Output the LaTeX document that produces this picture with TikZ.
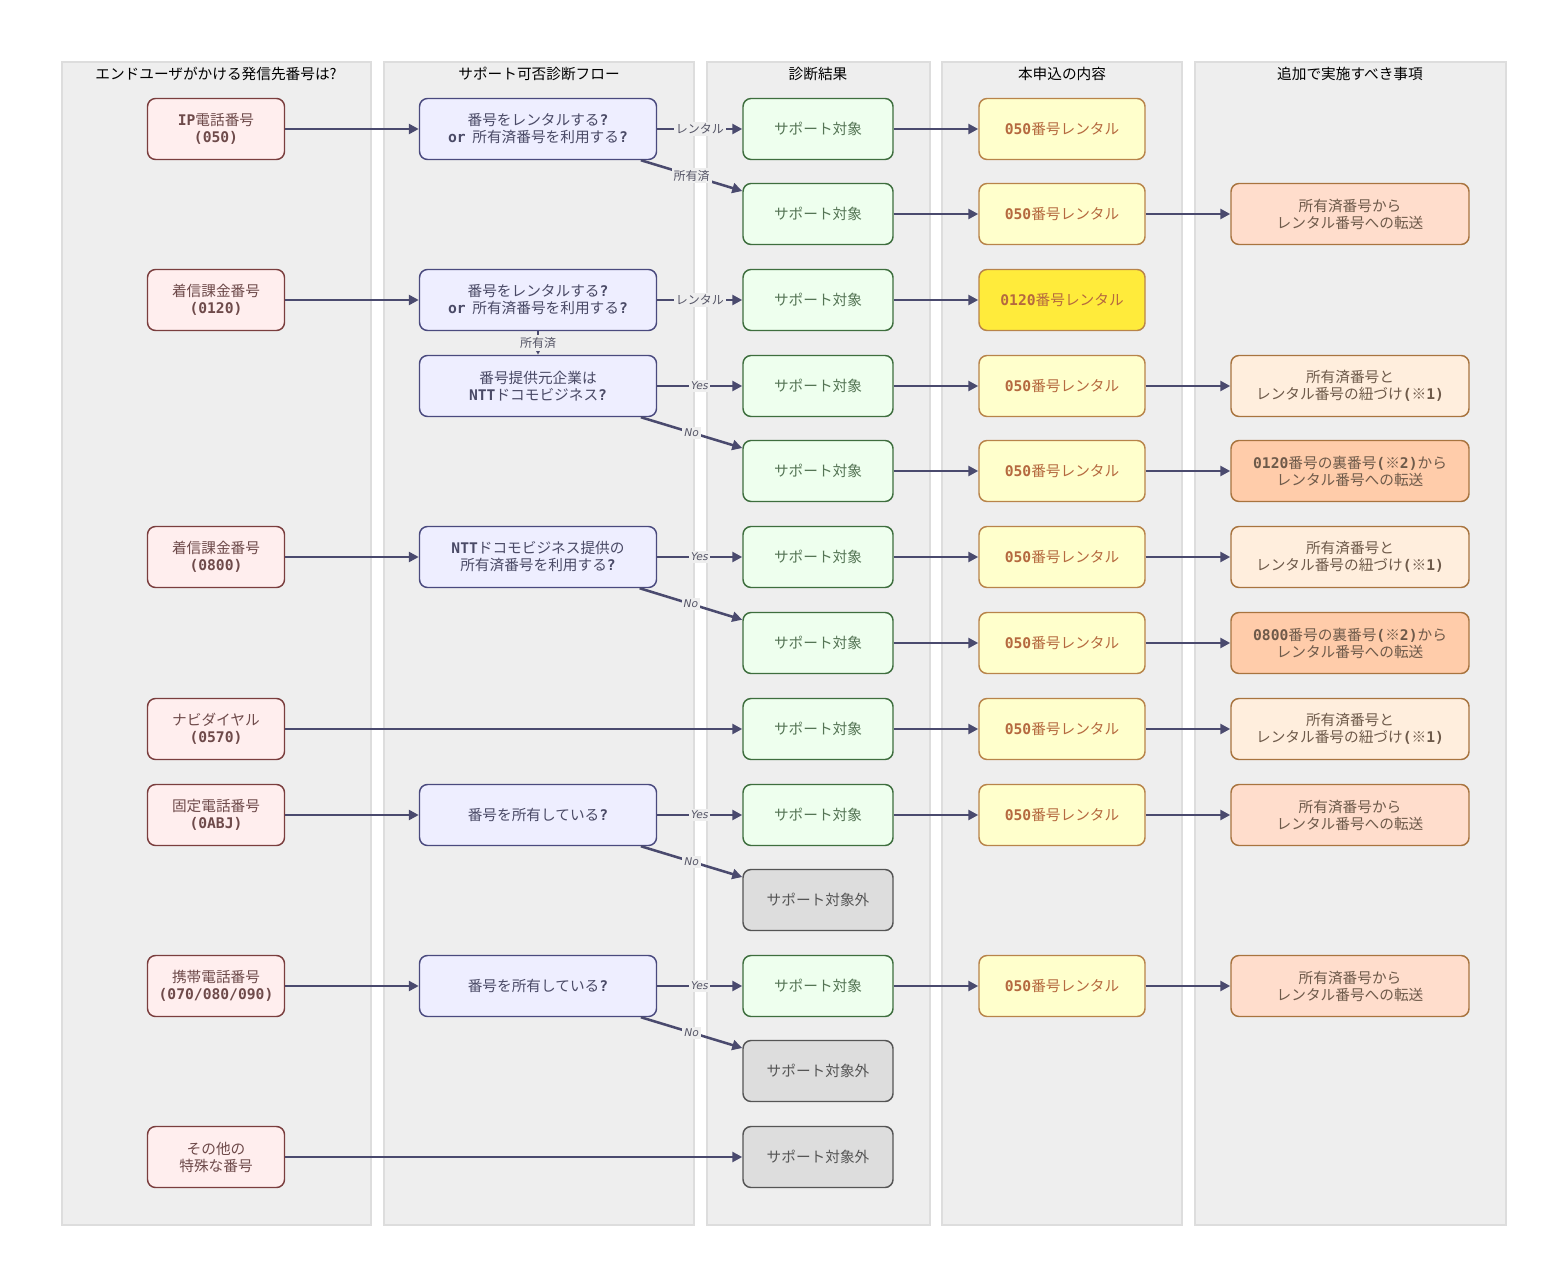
\documentclass[tikz,border=0pt]{standalone}
\usepackage{fontspec}
\usepackage{xcolor}
\usepackage{tikz}
\usetikzlibrary{arrows.meta, positioning}
\setmainfont{Noto Sans CJK JP}
\newfontfamily\monofnt{DejaVu Sans Mono}
\newfontfamily\latinfnt{DejaVu Sans}
\newcommand{\mb}[1]{{\monofnt\bfseries #1}}
\definecolor{lanefill}{HTML}{EEEEEE}
\definecolor{lanedraw}{HTML}{DDDDDD}
\definecolor{phonefill}{HTML}{FFEEEE}
\definecolor{phonedraw}{HTML}{7A3E3E}
\definecolor{phonetext}{HTML}{6E4A4A}
\definecolor{askfill}{HTML}{EEEEFF}
\definecolor{askdraw}{HTML}{4A4A7E}
\definecolor{asktext}{HTML}{4A4A66}
\definecolor{okfill}{HTML}{EEFFEE}
\definecolor{okdraw}{HTML}{3E6E3E}
\definecolor{oktext}{HTML}{557555}
\definecolor{ngfill}{HTML}{DDDDDD}
\definecolor{ngdraw}{HTML}{555555}
\definecolor{ngtext}{HTML}{555555}
\definecolor{applyfill}{HTML}{FFFFCC}
\definecolor{applyhot}{HTML}{FFEB3B}
\definecolor{applydraw}{HTML}{B8844A}
\definecolor{applytext}{HTML}{B5693F}
\definecolor{movefill}{HTML}{FFDDCC}
\definecolor{linkfill}{HTML}{FFEEDD}
\definecolor{backfill}{HTML}{FFCCAA}
\definecolor{extradraw}{HTML}{A8743F}
\definecolor{extratext}{HTML}{6E5A4A}
\definecolor{arrowcol}{HTML}{4A4A6E}
\definecolor{lbltext}{HTML}{555566}

\begin{document}
\begin{tikzpicture}[
    x=0.75pt, y=-0.75pt,
    lane/.style={draw=lanedraw, line width=2pt, fill=lanefill},
    title/.style={font=\fontsize{11}{12}\selectfont, text=black},
    box/.style={rectangle, rounded corners=6pt, minimum height=45.75pt, align=center, line width=1.1pt, inner sep=2pt, font=\fontsize{11}{12.75}\selectfont},
    phone/.style={box, minimum width=102.75pt, fill=phonefill, draw=phonedraw, text=phonetext},
    ask/.style={box, minimum width=177.75pt, fill=askfill, draw=askdraw, text=asktext},
    ok/.style={box, minimum width=112.5pt, fill=okfill, draw=okdraw, text=oktext},
    ng/.style={box, minimum width=112.5pt, fill=ngfill, draw=ngdraw, text=ngtext},
    apply/.style={box, minimum width=124.5pt, fill=applyfill, draw=applydraw, text=applytext},
    extra/.style={box, minimum width=178.5pt, draw=extradraw, text=extratext},
    arrow/.style={-{Triangle[length=7.5pt, width=7.5pt]}, line width=1.9pt, color=arrowcol},
    lbl/.style={fill=lanefill, inner sep=1.5pt, font=\fontsize{9}{10}\selectfont, text=lbltext},
    yn/.style={lbl, font=\fontsize{8}{10}\selectfont\latinfnt\itshape}
]
\useasboundingbox (0,0) rectangle (1568,1287);

% lanes
\draw[lane] (62,62) rectangle (371,1225);
\draw[lane] (384,62) rectangle (694,1225);
\draw[lane] (707,62) rectangle (930,1225);
\draw[lane] (942,62) rectangle (1182,1225);
\draw[lane] (1195,62) rectangle (1506,1225);
\node[title] (t1) at (216,74) {エンドユーザがかける発信先番号は?};
\node[title] (t2) at (539,74) {サポート可否診断フロー};
\node[title] (t3) at (818,74) {診断結果};
\node[title] (t4) at (1062,74) {本申込の内容};
\node[title] (t5) at (1350,74) {追加で実施すべき事項};

% numbers
\node[phone] (p1) at (216,129) {\mb{IP}電話番号\\\mb{(050)}};
\node[phone] (p2) at (216,300) {着信課金番号\\\mb{(0120)}};
\node[phone] (p3) at (216,557) {着信課金番号\\\mb{(0800)}};
\node[phone] (p4) at (216,729) {ナビダイヤル\\\mb{(0570)}};
\node[phone] (p5) at (216,815) {固定電話番号\\\mb{(0ABJ)}};
\node[phone] (p6) at (216,986) {携帯電話番号\\\mb{(070/080/090)}};
\node[phone] (p7) at (216,1157) {その他の\\特殊な番号};

% questions
\node[ask] (q1) at (538,129) {番号をレンタルする\mb{?}\\\mb{or}\ \ 所有済番号を利用する\mb{?}};
\node[ask] (q2) at (538,300) {番号をレンタルする\mb{?}\\\mb{or}\ \ 所有済番号を利用する\mb{?}};
\node[ask] (q3) at (538,386) {番号提供元企業は\\\mb{NTT}ドコモビジネス\mb{?}};
\node[ask] (q4) at (538,557) {\mb{NTT}ドコモビジネス提供の\\所有済番号を利用する\mb{?}};
\node[ask] (q5) at (538,815) {番号を所有している\mb{?}};
\node[ask] (q6) at (538,986) {番号を所有している\mb{?}};

% results
\node[ok] (r1) at (818,129) {サポート対象};
\node[ok] (r2) at (818,214) {サポート対象};
\node[ok] (r3) at (818,300) {サポート対象};
\node[ok] (r4) at (818,386) {サポート対象};
\node[ok] (r5) at (818,471) {サポート対象};
\node[ok] (r6) at (818,557) {サポート対象};
\node[ok] (r7) at (818,643) {サポート対象};
\node[ok] (r8) at (818,729) {サポート対象};
\node[ok] (r9) at (818,815) {サポート対象};
\node[ng] (r10) at (818,900) {サポート対象外};
\node[ok] (r11) at (818,986) {サポート対象};
\node[ng] (r12) at (818,1071) {サポート対象外};
\node[ng] (r13) at (818,1157) {サポート対象外};

% applications
\node[apply] (a1) at (1062,129) {\mb{050}番号レンタル};
\node[apply] (a2) at (1062,214) {\mb{050}番号レンタル};
\node[apply, fill=applyhot] (a3) at (1062,300) {\mb{0120}番号レンタル};
\node[apply] (a4) at (1062,386) {\mb{050}番号レンタル};
\node[apply] (a5) at (1062,471) {\mb{050}番号レンタル};
\node[apply] (a6) at (1062,557) {\mb{050}番号レンタル};
\node[apply] (a7) at (1062,643) {\mb{050}番号レンタル};
\node[apply] (a8) at (1062,729) {\mb{050}番号レンタル};
\node[apply] (a9) at (1062,815) {\mb{050}番号レンタル};
\node[apply] (a11) at (1062,986) {\mb{050}番号レンタル};

% extra tasks
\node[extra, fill=movefill] (e2) at (1350,214) {所有済番号から\\レンタル番号への転送};
\node[extra, fill=linkfill] (e4) at (1350,386) {所有済番号と\\レンタル番号の紐づけ\mb{(}※\mb{1)}};
\node[extra, fill=backfill] (e5) at (1350,471) {\mb{0120}番号の裏番号\mb{(}※\mb{2)}から\\レンタル番号への転送};
\node[extra, fill=linkfill] (e6) at (1350,557) {所有済番号と\\レンタル番号の紐づけ\mb{(}※\mb{1)}};
\node[extra, fill=backfill] (e7) at (1350,643) {\mb{0800}番号の裏番号\mb{(}※\mb{2)}から\\レンタル番号への転送};
\node[extra, fill=linkfill] (e8) at (1350,729) {所有済番号と\\レンタル番号の紐づけ\mb{(}※\mb{1)}};
\node[extra, fill=movefill] (e9) at (1350,815) {所有済番号から\\レンタル番号への転送};
\node[extra, fill=movefill] (e11) at (1350,986) {所有済番号から\\レンタル番号への転送};

% flow
\draw[arrow] (p1) -- (q1);
\draw[arrow] (q1) -- node[lbl] {レンタル} (r1);
\draw[arrow] (q1) -- node[lbl] {所有済} (r2);
\draw[arrow] (p2) -- (q2);
\draw[arrow] (q2) -- node[lbl] {レンタル} (r3);
\draw[arrow] (q2) -- node[lbl] {所有済} (q3);
\draw[arrow] (q3) -- node[yn] {Yes} (r4);
\draw[arrow] (q3) -- node[yn] {No} (r5);
\draw[arrow] (p3) -- (q4);
\draw[arrow] (q4) -- node[yn] {Yes} (r6);
\draw[arrow] (q4) -- node[yn] {No} (r7);
\draw[arrow] (p4) -- (r8);
\draw[arrow] (p5) -- (q5);
\draw[arrow] (q5) -- node[yn] {Yes} (r9);
\draw[arrow] (q5) -- node[yn] {No} (r10);
\draw[arrow] (p6) -- (q6);
\draw[arrow] (q6) -- node[yn] {Yes} (r11);
\draw[arrow] (q6) -- node[yn] {No} (r12);
\draw[arrow] (p7) -- (r13);

% results to applications
\draw[arrow] (r1) -- (a1);
\draw[arrow] (r2) -- (a2);
\draw[arrow] (r3) -- (a3);
\draw[arrow] (r4) -- (a4);
\draw[arrow] (r5) -- (a5);
\draw[arrow] (r6) -- (a6);
\draw[arrow] (r7) -- (a7);
\draw[arrow] (r8) -- (a8);
\draw[arrow] (r9) -- (a9);
\draw[arrow] (r11) -- (a11);

% applications to extra tasks
\draw[arrow] (a2) -- (e2);
\draw[arrow] (a4) -- (e4);
\draw[arrow] (a5) -- (e5);
\draw[arrow] (a6) -- (e6);
\draw[arrow] (a7) -- (e7);
\draw[arrow] (a8) -- (e8);
\draw[arrow] (a9) -- (e9);
\draw[arrow] (a11) -- (e11);
\end{tikzpicture}
\end{document}
